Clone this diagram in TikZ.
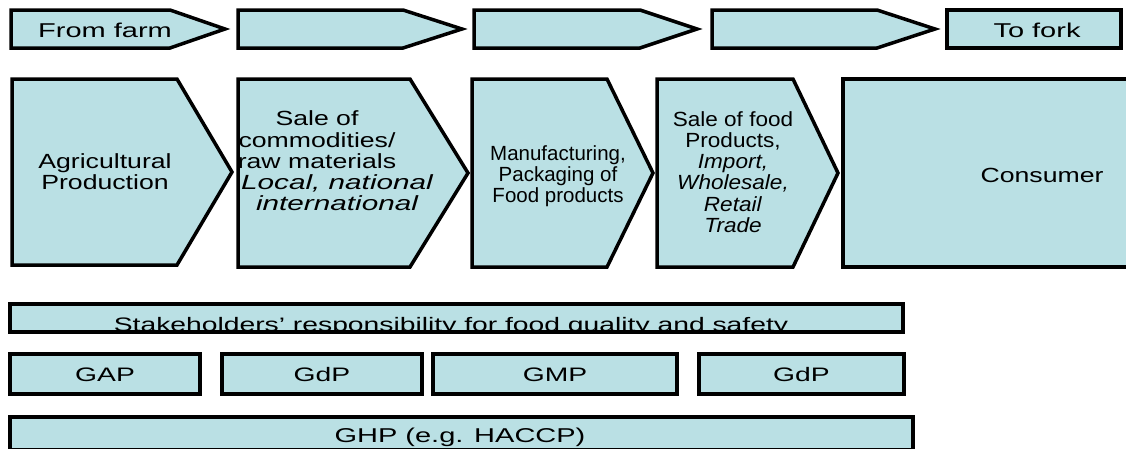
\documentclass[tikz,border=0pt]{standalone}
\usepackage{fontspec}
\setmainfont[FakeStretch=1.3]{Liberation Sans}
\newfontfamily\plainsans{Liberation Sans}
\newfontfamily\midsans[FakeStretch=1.1]{Liberation Sans}
\newfontfamily\widesans[FakeStretch=1.45]{Liberation Sans}
\usetikzlibrary{calc}
\definecolor{boxfill}{RGB}{186,224,228}
% left, shoulder, tip, top, bottom
\newcommand{\chev}[5]{%
\filldraw[stage] (#1,#4) -- (#2,#4) -- (#3,{(#4+#5)/2}) -- (#2,#5) -- (#1,#5) -- cycle;}

\begin{document}
\begin{tikzpicture}[x=1pt,y=-1pt,
  stage/.style={fill=boxfill,draw=black,line width=3.5pt,line join=miter},
  toplabel/.style={inner sep=0pt,font=\widesans\fontsize{20}{22}\selectfont},
  steplabel/.style={inner sep=0pt,align=center,font=\fontsize{20.5}{21.3}\selectfont},
  barlabel/.style={inner sep=0pt,font=\widesans\fontsize{19.5}{21}\selectfont}]
\clip (0,0) rectangle (1126,448);

% top row
\chev{11}{170}{225}{10}{48}
\chev{238}{403}{462}{10}{48}
\chev{474}{640}{697}{10}{48}
\chev{712}{877}{935}{10}{48}
\filldraw[stage] (947,10) rectangle (1121,48);
\node[toplabel] (farm) at (105,30) {From farm};
\node[toplabel] (fork) at (1037,30) {To fork};

% stages
\chev{12}{177}{232}{79}{265}
\chev{238}{410}{468}{79}{267}
\chev{472}{607}{653}{79}{267}
\chev{657}{793}{838}{79}{267}
\filldraw[stage] (843,79) rectangle (1140,267);
\node[steplabel] (agri) at (105,172) {Agricultural\\Production};
\node[steplabel] (raw) at (317,161) {Sale of\\commodities/\\raw materials\\
  \hspace*{40pt}{\widesans\itshape Local, national}\\\hspace*{40pt}{\widesans\itshape international}};
\node[steplabel,font=\plainsans\fontsize{20.5}{21.3}\selectfont] (manu) at (558,176) {Manufacturing,\\Packaging of\\Food products};
\node[steplabel,font=\midsans\fontsize{20.5}{21.3}\selectfont] (trade) at (733,172) {Sale of food\\Products,\\\textit{Import,}\\\textit{Wholesale,}\\\textit{Retail}\\\textit{Trade}};
\node[steplabel] (cons) at (1042,175) {Consumer};

% responsibility
\filldraw[stage] (10,304) rectangle (903,332);
\begin{scope}
\clip (10,304) rectangle (903,330.5);
\node[barlabel,anchor=base] (resp) at (451,331) {Stakeholders’ responsibility for food quality and safety};
\end{scope}

\foreach \a/\b/\t/\n in {10/200/GAP/gap,222/422/GdP/gdpa,433/677/GMP/gmp,699/904/GdP/gdpb}{
\filldraw[stage] (\a,354) rectangle (\b,394);
\node[barlabel] (\n) at ({(\a+\b)/2},375) {\t};
}

\filldraw[stage] (10,417) rectangle (913,450);
\node[barlabel,anchor=base,font=\widesans\fontsize{20}{21}\selectfont] (ghp) at (460,442) {GHP (e.g. HACCP)};
\end{tikzpicture}
\end{document}
